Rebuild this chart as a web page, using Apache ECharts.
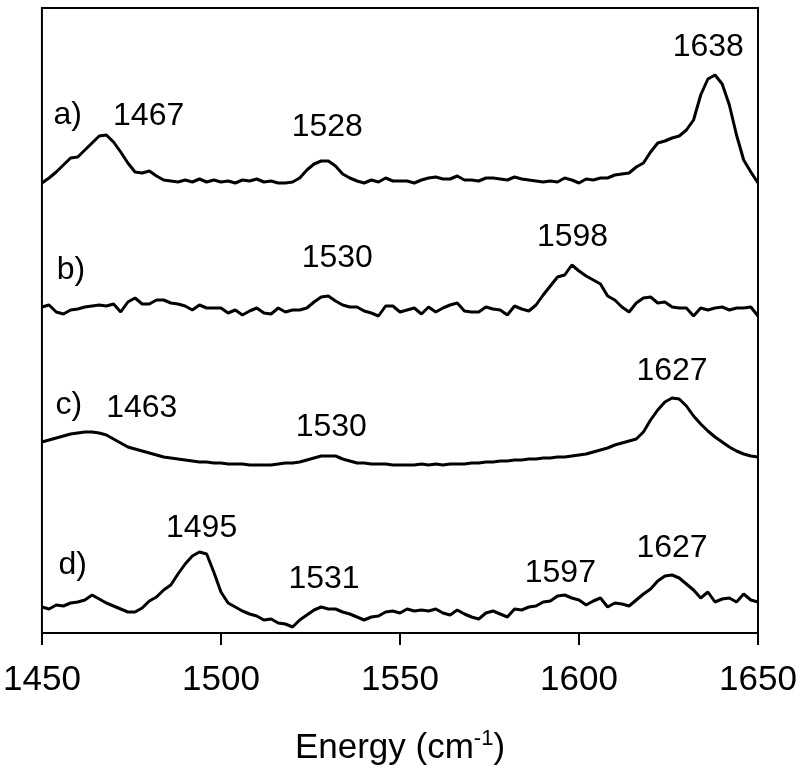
<!DOCTYPE html>
<html>
<head>
<meta charset="utf-8">
<script src="https://cdn.jsdelivr.net/npm/echarts@6/dist/echarts.min.js"></script>
<style>html,body{margin:0;padding:0;background:#fff}#c{width:800px;height:771px}</style>
</head>
<body>
<div id="c"></div>
<script>
// Energy axis (cm^-1), sampled every 2 cm^-1
var energies = [];
for (var e = 1450; e <= 1650; e += 2) energies.push(e);

// Stacked spectra, values are vertical offset units (top of frame = 8, bottom = 633, downward increasing)
var specA = [183,178,172,165,158,157,150,143,136,135,142,152,163,172,173,171,176,180,181,182,
180,182,179,182,180,182,181,183,180,181,179,182,181,183,183,182,178,170,164,161,
161,166,174,178,181,183,180,182,178,181,181,181,183,180,178,177,179,179,176,180,
180,181,178,178,179,180,177,179,180,181,182,181,182,178,180,183,179,180,178,178,
175,174,173,167,163,152,143,141,138,136,130,120,95,79,75,84,105,135,160,172,183];

var specB = [307,305,312,314,310,309,307,306,305,306,304,312,302,298,304,304,300,300,303,304,
306,310,305,308,308,308,313,310,315,311,308,313,314,308,312,310,310,308,302,297,
296,301,305,307,307,311,313,316,306,306,312,310,308,314,307,312,308,305,303,311,
312,312,307,309,310,315,306,309,311,305,295,286,277,275,265,271,276,280,284,296,
300,307,312,303,298,297,303,302,307,308,308,316,308,310,308,307,310,308,308,307,316];

var specC = [442,440,438,436,434,433,432,432,433,435,439,443,447,449,451,453,455,457,458,459,
460,461,462,462,463,463,464,464,464,465,465,465,465,464,463,463,462,460,458,456,
456,456,459,461,463,463,464,464,464,465,465,465,465,464,465,464,465,464,464,464,
463,463,462,462,461,461,460,460,459,459,458,458,457,457,456,455,454,452,450,448,
445,443,441,439,432,420,410,402,398,399,406,416,424,431,437,442,447,451,454,456,457];

var specD = [607,609,605,606,603,602,600,595,599,603,606,609,612,612,608,601,597,590,585,574,
564,556,552,554,572,592,603,607,611,614,616,620,619,623,624,627,620,615,610,607,
609,609,612,614,617,620,617,616,612,611,613,609,611,610,611,609,613,615,610,614,
617,619,613,611,614,617,609,610,607,606,602,601,596,595,598,600,605,601,598,607,
603,604,606,600,594,589,581,576,575,578,584,590,598,592,602,599,598,602,594,600,602];

// Annotations: [energy, offset, text]
var annotations = [
  [1457.2, 115, 'a)'], [1479.8, 116, '1467'], [1529.7, 127, '1528'], [1636.1, 47, '1638'],
  [1458.1, 270, 'b)'], [1532.5, 258, '1530'], [1598.2, 237, '1598'],
  [1457.5, 405, 'c)'], [1477.9, 408, '1463'], [1530.8, 427, '1530'], [1626.0, 371, '1627'],
  [1458.6, 565, 'd)'], [1494.6, 528, '1495'], [1528.8, 579, '1531'], [1594.8, 573, '1597'], [1626.0, 548, '1627']
];

var xTicks = [1450, 1500, 1550, 1600, 1650];

function pairs(arr) {
  return arr.map(function (v, i) { return [energies[i], v]; });
}

var chart = echarts.init(document.getElementById('c'), null, {renderer: 'canvas'});
var FONT = 'Liberation Sans, Arial, sans-serif';
var lineSeries = [specA, specB, specC, specD].map(function (s, i) {
  return {
    type: 'line', name: 'spec' + i, data: pairs(s), showSymbol: false, symbol: 'none',
    lineStyle: {color: '#000', width: 3}, silent: true, animation: false, z: 3
  };
});

chart.setOption({
  animation: false,
  backgroundColor: '#fff',
  grid: {left: 40, right: 42, top: 8, bottom: 138, show: true, borderColor: '#000', borderWidth: 2, backgroundColor: 'transparent'},
  xAxis: {
    type: 'value', min: 1450, max: 1650, interval: 50,
    axisLine: {show: true, lineStyle: {color: '#000', width: 2}},
    axisTick: {show: true, inside: false, length: 12, lineStyle: {color: '#000', width: 2}},
    axisLabel: {color: '#000', fontSize: 35, fontFamily: FONT, margin: 30,
      formatter: function (v) { return xTicks.indexOf(v) >= 0 ? String(v) : ''; }},
    splitLine: {show: false},
    name: '{a|Energy (cm}{s|-1}{a|)}',
    nameLocation: 'middle', nameGap: 95,
    nameTextStyle: {rich: {
      a: {fontSize: 35, fontFamily: FONT, color: '#000'},
      s: {fontSize: 22, fontFamily: FONT, color: '#000', verticalAlign: 'top', padding: [0, 0, 18, 0]}
    }}
  },
  yAxis: {
    type: 'value', inverse: true, min: 8, max: 633,
    axisLine: {show: false}, axisTick: {show: false}, axisLabel: {show: false}, splitLine: {show: false}
  },
  series: lineSeries.concat([{
    type: 'scatter', symbolSize: 0, silent: true, z: 5,
    itemStyle: {opacity: 1, color: '#000'},
    data: annotations.map(function (a) { return {value: [a[0], a[1]], name: a[2]}; }),
    label: {show: true, position: 'inside', formatter: function (p) { return p.name; },
      color: '#000', opacity: 1, fontSize: 32, fontFamily: FONT, textBorderWidth: 0, textBorderColor: 'transparent'}
  }])
});
</script>
</body>
</html>
